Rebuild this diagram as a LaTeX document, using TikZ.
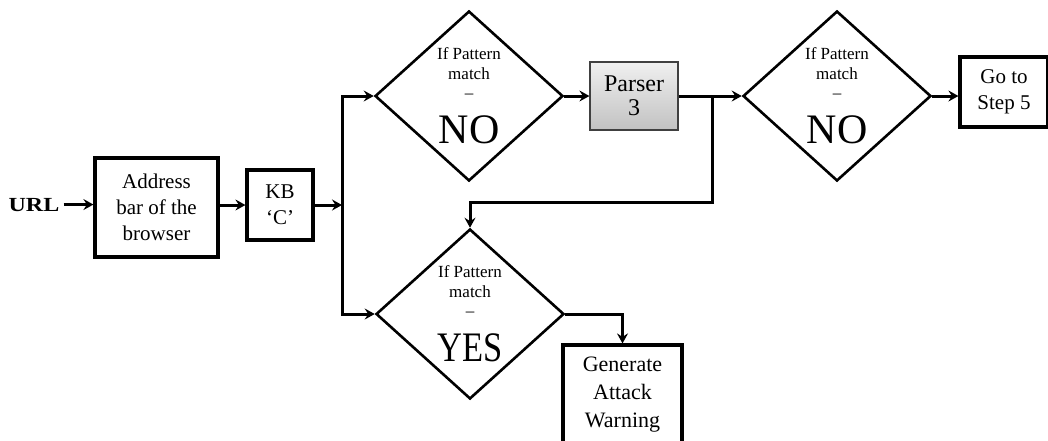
\documentclass[tikz,border=0pt]{standalone}
\usepackage{fontspec}
\setmainfont{Liberation Serif}
\usetikzlibrary{arrows.meta,shapes.geometric,calc}
\begin{document}
\begin{tikzpicture}[x=1pt,y=-1pt,
  box/.style={draw,line width=3.2pt,inner sep=0pt,align=center,
    font=\fontsize{21}{26}\selectfont},
  decision/.style={draw,diamond,line width=2.6pt,minimum width=188pt,
    minimum height=170pt,inner sep=0pt},
  small/.style={anchor=base,inner sep=0pt,font=\fontsize{17}{17}\selectfont},
  big/.style={anchor=base,inner sep=0pt,font=\fontsize{42}{42}\selectfont},
  arr/.style={line width=3pt,-{Stealth[length=10pt,width=11pt,inset=3.5pt]}},
  link/.style={line width=3pt}]
\useasboundingbox (0,0) rectangle (1048,440);

% input and first stages
\node[anchor=base,inner sep=0pt,font=\fontsize{20}{20}\selectfont\bfseries]
  (url) at (34,211) {\scalebox{1.2}[1]{URL}};
\node[box,minimum width=123pt,minimum height=99pt] (addr) at (156.5,207.5)
  {Address\\bar of the\\browser};
\node[box,minimum width=66pt,minimum height=70pt] (kb) at (280,205)
  {KB\\‘C’};

% decisions
\node[decision] (d1) at (469,96) {};
\node[decision] (d2) at (470,314) {};
\node[decision] (d3) at (837,96) {};

\foreach \d/\ans/\sx in {d1/NO/1, d2/YES/0.82, d3/NO/1}{
  \node[small] (\d a) at ($(\d)+(0,-37)$) {If Pattern};
  \node[small] (\d b) at ($(\d)+(0,-17)$) {match};
  \node[small] (\d c) at ($(\d)+(0,2)$) {–};
  \node[big]   (\d d) at ($(\d)+(0,47)$) {\scalebox{\sx}[1]{\ans}};
}

% parser and outcome boxes
\node[draw=black!75,line width=1.2pt,top color=gray!12,bottom color=gray!48,
  minimum width=88pt,minimum height=68pt,inner sep=0pt,align=center,
  font=\fontsize{24}{24}\selectfont] (parser) at (634,96) {Parser\\3};
\node[box,minimum width=88pt,minimum height=70pt] (goto) at (1004,92)
  {Go to\\Step 5};
\node[box,minimum width=119pt,minimum height=100pt,
  font=\fontsize{22}{28}\selectfont] (warn) at (622.5,395)
  {Generate\\Attack\\Warning};

% junctions on the connectors
\coordinate (bus) at (342,205);
\coordinate (j1) at (712,96);
\coordinate (j2) at (712,202);

% connectors
\draw[arr] ([xshift=4pt]url.east) -- (url.east -| addr.west);
\draw[arr] (addr.east |- kb.west) -- (kb.west);
\draw[arr] (kb.east) -- (bus);
\draw[arr] (bus) |- (d1.west);
\draw[arr] (bus) |- (d2.west);
\draw[arr] (d1.east) -- (parser.west);
\draw[arr] (parser.east) -- (d3.west);
\draw[arr] (j1) -- (j2) -| (d2.north);
\draw[arr] (d3.east) -- (d3.east -| goto.west);
\draw[arr] (d2.east) -| (warn.north);
\end{tikzpicture}
\end{document}
